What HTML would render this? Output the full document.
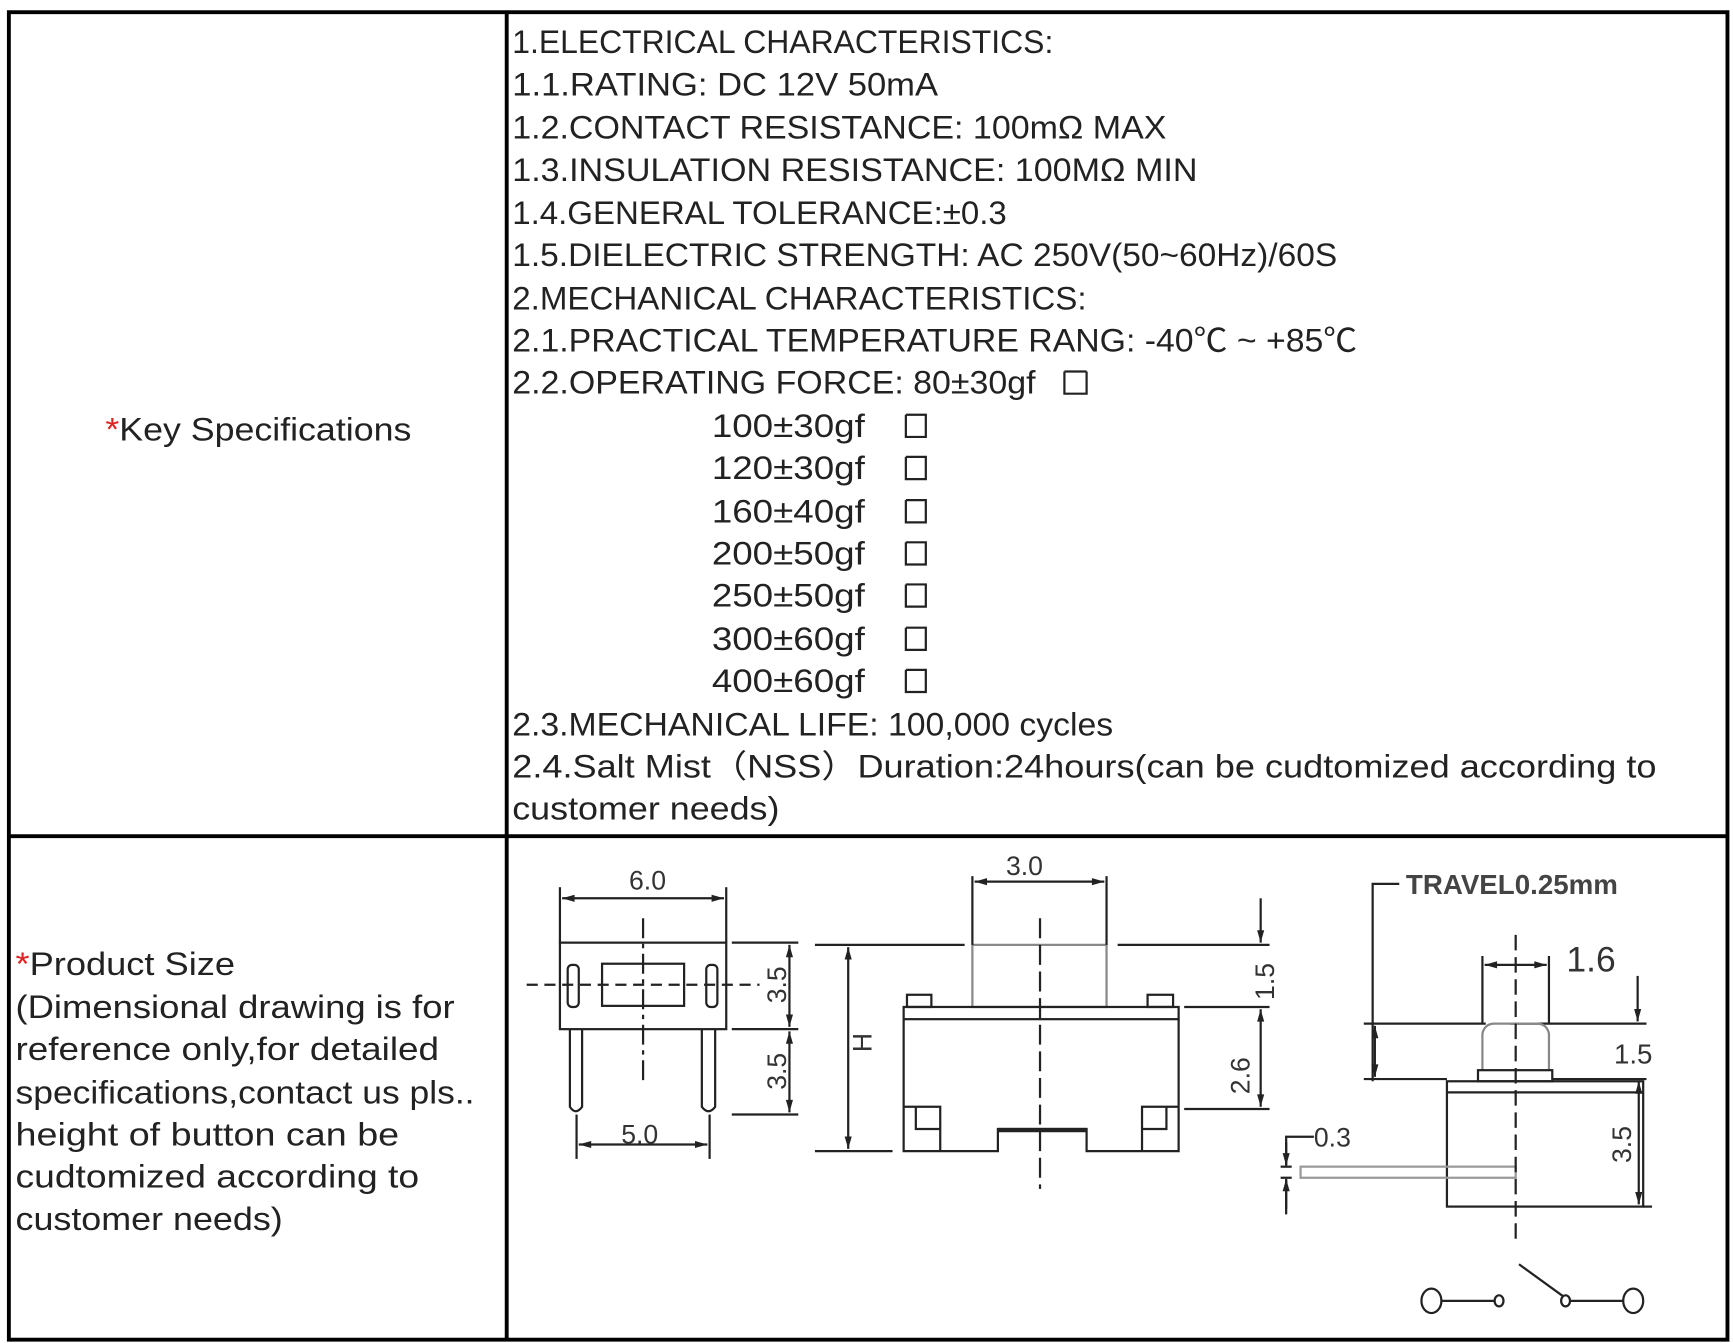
<!DOCTYPE html>
<html><head><meta charset="utf-8"><style>html,body{margin:0;padding:0;background:#fff}svg{display:block}</style></head>
<body>
<svg width="1733" height="1343" viewBox="0 0 1563 1211" preserveAspectRatio="none" xmlns="http://www.w3.org/2000/svg">
<defs>
<marker id="a" viewBox="0 0 14 10" refX="14" refY="5" markerWidth="14" markerHeight="8" orient="auto-start-reverse" markerUnits="userSpaceOnUse"><path d="M0,1 L14,5 L0,9 z" fill="#222"/></marker>
</defs>
<rect width="1563" height="1211" fill="#fff"/>
<g fill="none" stroke="#000" stroke-width="3.5">
<rect x="8" y="11" width="1550" height="1197"/>
<line x1="457" y1="11" x2="457" y2="1208"/>
<line x1="8" y1="754" x2="1558" y2="754"/>
</g>
<g font-family="Liberation Sans, 'Noto Sans CJK SC', sans-serif" font-size="29" fill="#222">
<text x="462" y="48" textLength="488" lengthAdjust="spacingAndGlyphs">1.ELECTRICAL CHARACTERISTICS:</text>
<text x="462" y="86" textLength="384" lengthAdjust="spacingAndGlyphs">1.1.RATING: DC 12V 50mA</text>
<text x="462" y="125" textLength="590" lengthAdjust="spacingAndGlyphs">1.2.CONTACT RESISTANCE: 100mΩ MAX</text>
<text x="462" y="163" textLength="618" lengthAdjust="spacingAndGlyphs">1.3.INSULATION RESISTANCE: 100MΩ MIN</text>
<text x="462" y="202" textLength="446" lengthAdjust="spacingAndGlyphs">1.4.GENERAL TOLERANCE:±0.3</text>
<text x="462" y="240" textLength="744" lengthAdjust="spacingAndGlyphs">1.5.DIELECTRIC STRENGTH: AC 250V(50~60Hz)/60S</text>
<text x="462" y="279" textLength="518" lengthAdjust="spacingAndGlyphs">2.MECHANICAL CHARACTERISTICS:</text>
<text x="462" y="317" textLength="762" lengthAdjust="spacingAndGlyphs">2.1.PRACTICAL TEMPERATURE RANG: -40℃ ~ +85℃</text>
<text x="462" y="355" textLength="472" lengthAdjust="spacingAndGlyphs">2.2.OPERATING FORCE: 80±30gf</text>
<text x="642" y="394" textLength="138" lengthAdjust="spacingAndGlyphs">100±30gf</text>
<text x="642" y="432" textLength="138" lengthAdjust="spacingAndGlyphs">120±30gf</text>
<text x="642" y="471" textLength="138" lengthAdjust="spacingAndGlyphs">160±40gf</text>
<text x="642" y="509" textLength="138" lengthAdjust="spacingAndGlyphs">200±50gf</text>
<text x="642" y="547" textLength="138" lengthAdjust="spacingAndGlyphs">250±50gf</text>
<text x="642" y="586" textLength="138" lengthAdjust="spacingAndGlyphs">300±60gf</text>
<text x="642" y="624" textLength="138" lengthAdjust="spacingAndGlyphs">400±60gf</text>
<text x="462" y="663" textLength="542" lengthAdjust="spacingAndGlyphs">2.3.MECHANICAL LIFE: 100,000 cycles</text>
<text x="462" y="701" textLength="1032" lengthAdjust="spacingAndGlyphs">2.4.Salt Mist（NSS）Duration:24hours(can be cudtomized according to</text>
<text x="462" y="739" textLength="241" lengthAdjust="spacingAndGlyphs">customer needs)</text>
<text x="95" y="397" textLength="276" lengthAdjust="spacingAndGlyphs"><tspan fill="#d22">*</tspan>Key Specifications</text>
<text x="14" y="879" textLength="198" lengthAdjust="spacingAndGlyphs"><tspan fill="#d22">*</tspan>Product Size</text>
<text x="14" y="918" textLength="396" lengthAdjust="spacingAndGlyphs">(Dimensional drawing is for</text>
<text x="14" y="956" textLength="382" lengthAdjust="spacingAndGlyphs">reference only,for detailed</text>
<text x="14" y="995" textLength="414" lengthAdjust="spacingAndGlyphs">specifications,contact us pls..</text>
<text x="14" y="1033" textLength="346" lengthAdjust="spacingAndGlyphs">height of button can be</text>
<text x="14" y="1071" textLength="364" lengthAdjust="spacingAndGlyphs">cudtomized according to</text>
<text x="14" y="1109" textLength="241" lengthAdjust="spacingAndGlyphs">customer needs)</text>
</g>
<g fill="none" stroke="#222" stroke-width="2">
<path d="M960,335 V355 H980 V335 M960,335 H980"/>
<path d="M817,374 V394 H835 V374 H817 M817,412 V432 H835 V412 H817 M817,451 V471 H835 V451 H817 M817,489 V509 H835 V489 H817 M817,527 V547 H835 V527 H817 M817,566 V586 H835 V566 H817 M817,604 V624 H835 V604 H817"/>
</g>
<g fill="none" stroke="#222" stroke-width="2">
<rect x="505" y="850" width="150" height="78"/>
<rect x="543" y="869" width="74" height="38"/>
<rect x="512" y="870" width="10" height="38" rx="4"/>
<rect x="637" y="870" width="10" height="38" rx="4"/>
<path d="M514,928 V998 Q519,1006 525,998 V928"/>
<path d="M633,928 V998 Q639,1006 645,998 V928"/>
<line x1="475" y1="888" x2="685" y2="888" stroke-dasharray="10,6"/>
<line x1="580" y1="828" x2="580" y2="975" stroke-dasharray="18,5,4,5"/>
<line x1="505" y1="800" x2="505" y2="850"/><line x1="655" y1="800" x2="655" y2="850"/>
<line x1="507" y1="810" x2="653" y2="810" marker-start="url(#a)" marker-end="url(#a)"/>
<line x1="660" y1="850" x2="720" y2="850"/><line x1="660" y1="928" x2="720" y2="928"/><line x1="660" y1="1005" x2="720" y2="1005"/>
<line x1="712" y1="852" x2="712" y2="926" marker-start="url(#a)" marker-end="url(#a)"/>
<line x1="712" y1="930" x2="712" y2="1003" marker-start="url(#a)" marker-end="url(#a)"/>
<line x1="520" y1="1005" x2="520" y2="1045"/><line x1="640" y1="1005" x2="640" y2="1045"/>
<line x1="522" y1="1032" x2="638" y2="1032" marker-start="url(#a)" marker-end="url(#a)"/>
<line x1="735" y1="852" x2="870" y2="852"/><line x1="735" y1="1038" x2="805" y2="1038"/>
<line x1="765" y1="854" x2="765" y2="1036" marker-start="url(#a)" marker-end="url(#a)"/>
<rect x="877" y="852" width="121" height="56" stroke="#888"/>
<rect x="818" y="897" width="22" height="11"/><rect x="1035" y="897" width="23" height="11"/>
<rect x="815" y="908" width="248" height="11"/>
<path d="M815,919 V1038 H900 V1018 H980 V1038 H1063 V919"/>
<line x1="900" y1="1019" x2="980" y2="1019" stroke-width="4"/>
<path d="M815,998 H848 V1038 M826,998 V1018 H848"/>
<path d="M1063,998 H1030 V1038 M1052,998 V1018 H1030"/>
<line x1="877" y1="790" x2="877" y2="852"/><line x1="998" y1="790" x2="998" y2="852"/>
<line x1="879" y1="795" x2="996" y2="795" marker-start="url(#a)" marker-end="url(#a)"/>
<line x1="938" y1="828" x2="938" y2="1072" stroke-dasharray="18,6"/>
<line x1="1008" y1="852" x2="1145" y2="852"/><line x1="1068" y1="908" x2="1145" y2="908"/><line x1="1068" y1="1000" x2="1145" y2="1000"/>
<line x1="1137" y1="810" x2="1137" y2="850" marker-end="url(#a)"/>
<line x1="1137" y1="910" x2="1137" y2="998" marker-start="url(#a)" marker-end="url(#a)"/>
<path d="M1262,797 H1238 V975"/>
<line x1="1230" y1="923" x2="1340" y2="923"/><line x1="1362" y1="923" x2="1485" y2="923"/>
<line x1="1230" y1="973" x2="1305" y2="973"/>
<line x1="1240" y1="925" x2="1240" y2="971" marker-start="url(#a)" marker-end="url(#a)"/>
<path d="M1337,965 V932 Q1339,923 1348,923 H1386 Q1395,923 1397,932 V965" stroke="#888"/>
<rect x="1333" y="965" width="67" height="10"/>
<rect x="1305" y="975" width="177" height="113"/>
<line x1="1305" y1="985" x2="1482" y2="985"/>
<line x1="1337" y1="862" x2="1337" y2="923"/><line x1="1397" y1="862" x2="1397" y2="923"/>
<line x1="1339" y1="870" x2="1395" y2="870" marker-start="url(#a)" marker-end="url(#a)"/>
<line x1="1477" y1="880" x2="1477" y2="921" marker-end="url(#a)"/>
<line x1="1400" y1="973" x2="1485" y2="973"/>
<line x1="1482" y1="1088" x2="1490" y2="1088"/>
<line x1="1478" y1="975" x2="1478" y2="1086" marker-start="url(#a)" marker-end="url(#a)"/>
<rect x="1173" y="1052" width="194" height="10" stroke="#999"/>
<path d="M1185,1025 H1160 V1050 M1160,1064 V1095"/>
<line x1="1160" y1="1030" x2="1160" y2="1051" marker-end="url(#a)"/>
<line x1="1160" y1="1090" x2="1160" y2="1063" marker-end="url(#a)"/>
<line x1="1155" y1="1052" x2="1165" y2="1052"/><line x1="1155" y1="1062" x2="1165" y2="1062"/>
<line x1="1367" y1="843" x2="1367" y2="1120" stroke-dasharray="14,6"/>
<ellipse cx="1291" cy="1173" rx="9" ry="11"/><line x1="1300" y1="1173" x2="1348" y2="1173"/><ellipse cx="1352" cy="1173" rx="4" ry="5"/>
<line x1="1370" y1="1140" x2="1410" y2="1169"/><ellipse cx="1412" cy="1173" rx="4" ry="5"/><line x1="1416" y1="1173" x2="1464" y2="1173"/><ellipse cx="1473" cy="1173" rx="9" ry="11"/>
</g>
<g font-family="Liberation Sans, sans-serif" fill="#333" font-size="24">
<text x="584" y="802" text-anchor="middle">6.0</text>
<text x="577" y="1031" text-anchor="middle">5.0</text>
<text x="924" y="789" text-anchor="middle">3.0</text>
<text x="1268" y="806" font-size="25" font-weight="bold" fill="#444">TRAVEL0.25mm</text>
<text x="1435" y="876" text-anchor="middle" font-size="32">1.6</text>
<text x="1473" y="959" text-anchor="middle" font-size="25">1.5</text>
<text x="1185" y="1034">0.3</text>
<text transform="translate(709,888) rotate(-90)" text-anchor="middle">3.5</text>
<text transform="translate(709,966) rotate(-90)" text-anchor="middle">3.5</text>
<text transform="translate(786,940) rotate(-90)" text-anchor="middle">H</text>
<text transform="translate(1149,885) rotate(-90)" text-anchor="middle">1.5</text>
<text transform="translate(1127,970) rotate(-90)" text-anchor="middle">2.6</text>
<text transform="translate(1471,1032) rotate(-90)" text-anchor="middle">3.5</text>
</g>
</svg>
</body></html>
